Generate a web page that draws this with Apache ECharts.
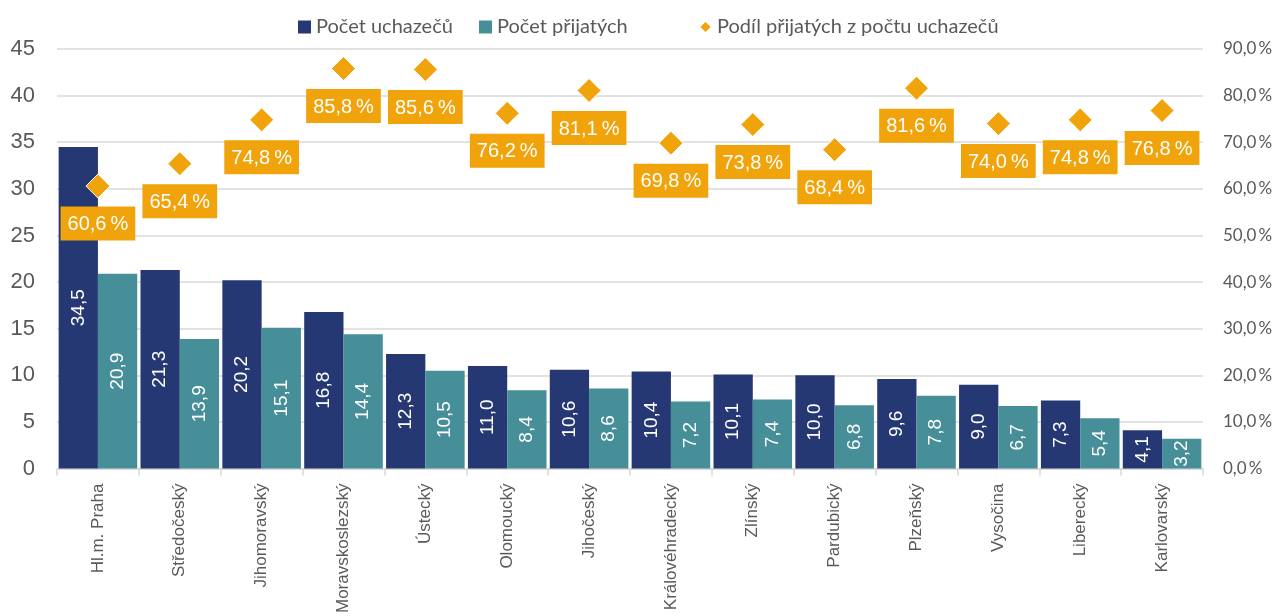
<!DOCTYPE html>
<html>
<head>
<meta charset="utf-8">
<script src="https://cdn.jsdelivr.net/npm/echarts@6/dist/echarts.min.js"></script>
<style>
  html, body { margin: 0; padding: 0; background: #fff; }
  #chart { width: 1277px; height: 616px; }
</style>
</head>
<body>
<div id="chart"></div>
<script>
const regions = ['Hl.m. Praha', 'Středočeský', 'Jihomoravský', 'Moravskoslezský', 'Ústecký', 'Olomoucký',
  'Jihočeský', 'Královéhradecký', 'Zlínský', 'Pardubický', 'Plzeňský', 'Vysočina', 'Liberecký', 'Karlovarský']
const applicants = [34.5, 21.3, 20.2, 16.8, 12.3, 11.0, 10.6, 10.4, 10.1, 10.0, 9.6, 9.0, 7.3, 4.1]
const admitted = [20.9, 13.9, 15.1, 14.4, 10.5, 8.4, 8.6, 7.2, 7.4, 6.8, 7.8, 6.7, 5.4, 3.2]
const share = [60.6, 65.4, 74.8, 85.8, 85.6, 76.2, 81.1, 69.8, 73.8, 68.4, 81.6, 74.0, 74.8, 76.8]

const fmt = (v) => v.toFixed(1).replace('.', ',')
const pct = (v) => fmt(v) + '\u2009%'

const barLabel = {
  show: true,
  position: 'inside',
  rotate: 90,
  color: '#fff',
  fontSize: 19,
  fontFamily: 'Liberation Sans',
  formatter: (p) => fmt(p.value)
}

// one legend per item so the spacing can follow the original
const legendItem = (name, icon, left) => ({
  top: 12,
  left: left,
  itemWidth: 13,
  itemHeight: 13,
  textStyle: { fontSize: 20, color: '#595959', fontFamily: 'Lato' },
  data: [{ name: name, icon: icon }]
})

const option = {
  animation: false,
  legend: [
    legendItem('Počet uchazečů', 'rect', 293),
    legendItem('Počet přijatých', 'rect', 474),
    legendItem('Podíl přijatých z počtu uchazečů', 'diamond', 693)
  ],
  grid: { left: 57, right: 74, top: 49, bottom: 146 },
  xAxis: {
    type: 'category',
    data: regions,
    axisLine: { lineStyle: { color: '#d9d9d9', width: 1.5 } },
    axisTick: { show: true, length: 7, lineStyle: { color: '#d9d9d9', width: 1.5 } },
    axisLabel: {
      rotate: 90,
      margin: 15,
      fontSize: 17,
      color: '#595959',
      fontFamily: 'Liberation Sans',
      interval: 0
    }
  },
  yAxis: [
    {
      type: 'value',
      min: 0,
      max: 45,
      interval: 5,
      axisLine: { show: false },
      axisTick: { show: false },
      splitLine: { lineStyle: { color: '#d9d9d9', width: 1.5 } },
      axisLabel: { fontSize: 22, color: '#595959', fontFamily: 'Liberation Sans', margin: 22 }
    },
    {
      type: 'value',
      min: 0,
      max: 90,
      interval: 10,
      axisLine: { show: false },
      axisTick: { show: false },
      splitLine: { show: false },
      axisLabel: {
        fontSize: 17,
        color: '#595959',
        fontFamily: 'Lato',
        margin: 20,
        formatter: (v) => pct(v)
      }
    }
  ],
  series: [
    {
      name: 'Počet uchazečů',
      type: 'bar',
      data: applicants,
      barGap: '0%',
      barCategoryGap: '4%',
      itemStyle: { color: '#263873' },
      label: barLabel
    },
    {
      name: 'Počet přijatých',
      type: 'bar',
      data: admitted,
      itemStyle: { color: '#468f98' },
      label: barLabel
    },
    {
      name: 'Podíl přijatých z počtu uchazečů',
      type: 'scatter',
      yAxisIndex: 1,
      data: share,
      symbol: 'diamond',
      symbolSize: 24,
      itemStyle: { color: '#f0a30a', opacity: 1, borderColor: '#fff', borderWidth: 1 },
      z: 5,
      label: {
        show: true,
        position: 'bottom',
        distance: 8,
        backgroundColor: '#f0a30a',
        color: '#fff',
        fontSize: 20,
        fontFamily: 'Liberation Sans',
        padding: [8, 7, 6, 7],
        formatter: (p) => pct(p.value)
      }
    }
  ]
}

const chart = echarts.init(document.getElementById('chart'))
chart.setOption(option)
</script>
</body>
</html>
